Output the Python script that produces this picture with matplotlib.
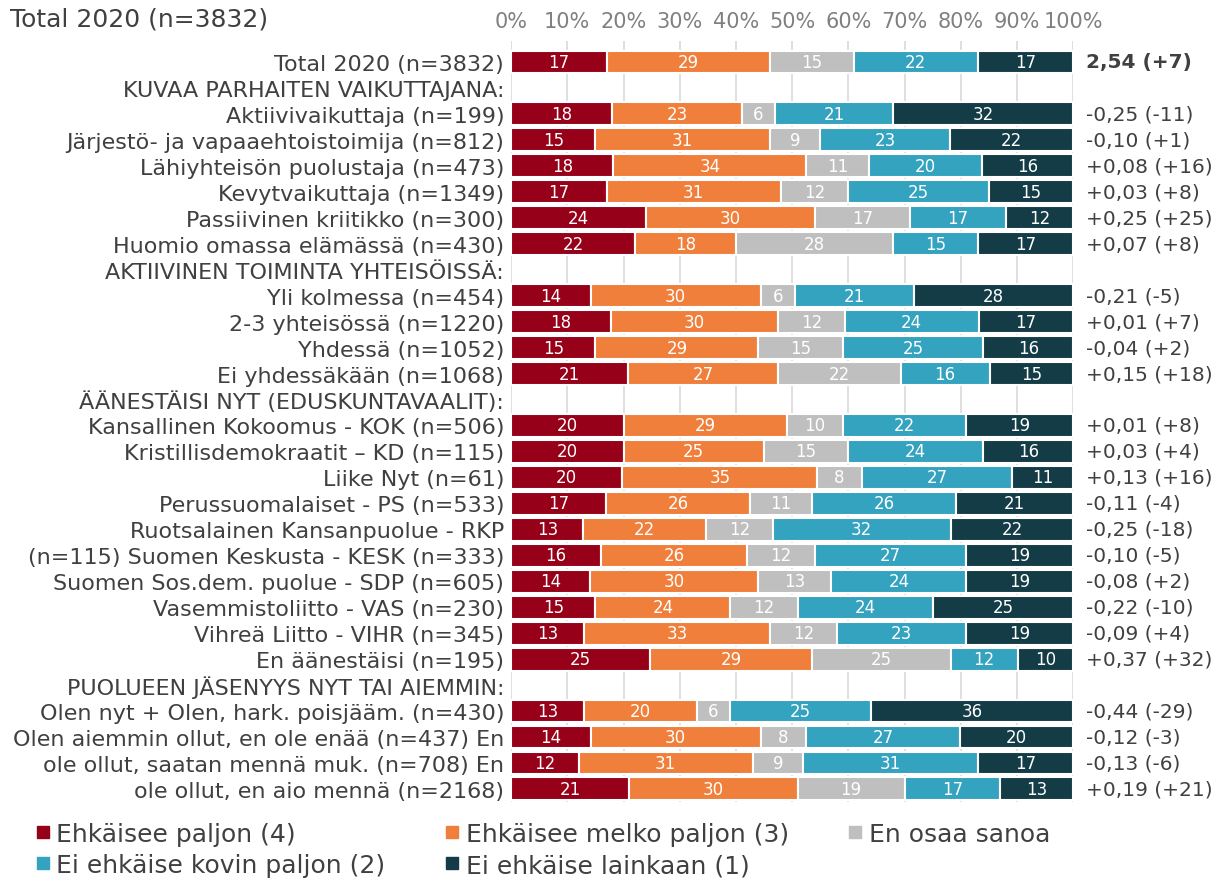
import numpy as np
import matplotlib
matplotlib.use("Agg")
import matplotlib.pyplot as plt
from matplotlib.lines import Line2D

# Row labels (top to bottom); header rows have no bars
labels = [
    "Total 2020 (n=3832)",
    "KUVAA PARHAITEN VAIKUTTAJANA:",
    "Aktiivivaikuttaja (n=199)",
    "Järjestö- ja vapaaehtoistoimija (n=812)",
    "Lähiyhteisön puolustaja (n=473)",
    "Kevytvaikuttaja (n=1349)",
    "Passiivinen kriitikko (n=300)",
    "Huomio omassa elämässä (n=430)",
    "AKTIIVINEN TOIMINTA YHTEISÖISSÄ:",
    "Yli kolmessa (n=454)",
    "2-3 yhteisössä (n=1220)",
    "Yhdessä (n=1052)",
    "Ei yhdessäkään (n=1068)",
    "ÄÄNESTÄISI NYT (EDUSKUNTAVAALIT):",
    "Kansallinen Kokoomus - KOK (n=506)",
    "Kristillisdemokraatit – KD (n=115)",
    "Liike Nyt (n=61)",
    "Perussuomalaiset - PS (n=533)",
    "Ruotsalainen Kansanpuolue - RKP",
    "(n=115) Suomen Keskusta - KESK (n=333)",
    "Suomen Sos.dem. puolue - SDP (n=605)",
    "Vasemmistoliitto - VAS (n=230)",
    "Vihreä Liitto - VIHR (n=345)",
    "En äänestäisi (n=195)",
    "PUOLUEEN JÄSENYYS NYT TAI AIEMMIN:",
    "Olen nyt + Olen, hark. poisjääm. (n=430)",
    "Olen aiemmin ollut, en ole enää (n=437) En",
    "ole ollut, saatan mennä muk. (n=708) En",
    "ole ollut, en aio mennä (n=2168)",
]

# None = header row
paljon = [17, None, 18, 15, 18, 17, 24, 22, None, 14, 18, 15, 21, None,
          20, 20, 20, 17, 13, 16, 14, 15, 13, 25, None, 13, 14, 12, 21]
melko = [29, None, 23, 31, 34, 31, 30, 18, None, 30, 30, 29, 27, None,
         29, 25, 35, 26, 22, 26, 30, 24, 33, 29, None, 20, 30, 31, 30]
eos = [15, None, 6, 9, 11, 12, 17, 28, None, 6, 12, 15, 22, None,
       10, 15, 8, 11, 12, 12, 13, 12, 12, 25, None, 6, 8, 9, 19]
kovin = [22, None, 21, 23, 20, 25, 17, 15, None, 21, 24, 25, 16, None,
         22, 24, 27, 26, 32, 27, 24, 24, 23, 12, None, 25, 27, 31, 17]
lainkaan = [17, None, 32, 22, 16, 15, 12, 17, None, 28, 17, 16, 15, None,
            19, 16, 11, 21, 22, 19, 19, 25, 19, 10, None, 36, 20, 17, 13]

# Mean and change shown at the right
right_texts = ["2,54 (+7)", "", "-0,25 (-11)", "-0,10 (+1)", "+0,08 (+16)",
               "+0,03 (+8)", "+0,25 (+25)", "+0,07 (+8)", "", "-0,21 (-5)",
               "+0,01 (+7)", "-0,04 (+2)", "+0,15 (+18)", "", "+0,01 (+8)",
               "+0,03 (+4)", "+0,13 (+16)", "-0,11 (-4)", "-0,25 (-18)",
               "-0,10 (-5)", "-0,08 (+2)", "-0,22 (-10)", "-0,09 (+4)",
               "+0,37 (+32)", "", "-0,44 (-29)", "-0,12 (-3)", "-0,13 (-6)",
               "+0,19 (+21)"]

series_names = ["Ehkäisee paljon (4)", "Ehkäisee melko paljon (3)", "En osaa sanoa",
                "Ei ehkäise kovin paljon (2)", "Ei ehkäise lainkaan (1)"]
colors = ["#960018", "#f07f3c", "#bfbfbf", "#33a3bf", "#143c46"]

text_col = "#404040"
plt.rcParams['font.family'] = ['DejaVu Sans']

fig = plt.figure(figsize=(12.14, 8.79), dpi=100)
ax = fig.add_axes([0.421, 0.0866, 0.463, 0.8654])

series = [paljon, melko, eos, kovin, lainkaan]
y = np.arange(len(labels))
bar_rows = [i for i in y if paljon[i] is not None]
vals = np.array([[s[i] for s in series] for i in bar_rows], dtype=float)
# bars fill the whole width, so scale each row to 100
widths = vals / vals.sum(axis=1, keepdims=True) * 100

left = np.zeros(len(bar_rows))
for k in range(5):
    bars = ax.barh(bar_rows, widths[:, k], left=left, height=0.88,
                   color=colors[k], edgecolor="white", linewidth=1.5, zorder=2)
    ax.bar_label(bars, labels=[str(int(v)) for v in vals[:, k]],
                 label_type="center", color="white", fontsize=12)
    left += widths[:, k]

for i, t in enumerate(right_texts):
    if t:
        ax.text(102.2, i, t, ha="left", va="center", fontsize=14.5,
                color=text_col, fontweight="bold" if i == 0 else "normal",
                clip_on=False)

ax.set_xlim(0, 100)
ax.set_ylim(28.5, -0.8)
ax.set_xticks(np.arange(0, 101, 10))
ax.set_xticklabels([f"{v}%" for v in range(0, 101, 10)])
ax.xaxis.set_ticks_position("top")
ax.tick_params(axis="x", length=0, pad=7, labelsize=15, labelcolor="#808080")
ax.set_yticks(y)
ax.set_yticklabels(labels)
ax.tick_params(axis="y", length=0, pad=5, labelsize=16, labelcolor=text_col)
ax.grid(axis="x", color="#d9d9d9", linewidth=1.2, zorder=0)
ax.set_axisbelow(True)
for s in ax.spines.values():
    s.set_visible(False)

fig.text(10 / 1214, 1 - 20 / 879, "Total 2020 (n=3832)", fontsize=18,
         color=text_col, va="center", ha="left")

handles = [Line2D([], [], marker="s", linestyle="none", markersize=9,
                  color=c) for c in colors]
order = [0, 3, 1, 4, 2]
fig.legend([handles[i] for i in order], [series_names[i] for i in order],
           ncol=3, loc="upper left", bbox_to_anchor=(0.03, 0.064),
           frameon=False, fontsize=18, labelcolor=text_col,
           handlelength=0.5, handletextpad=0.3, columnspacing=2.4,
           labelspacing=0.3, borderaxespad=0, borderpad=0)

fig.savefig("out.png", dpi=100)
